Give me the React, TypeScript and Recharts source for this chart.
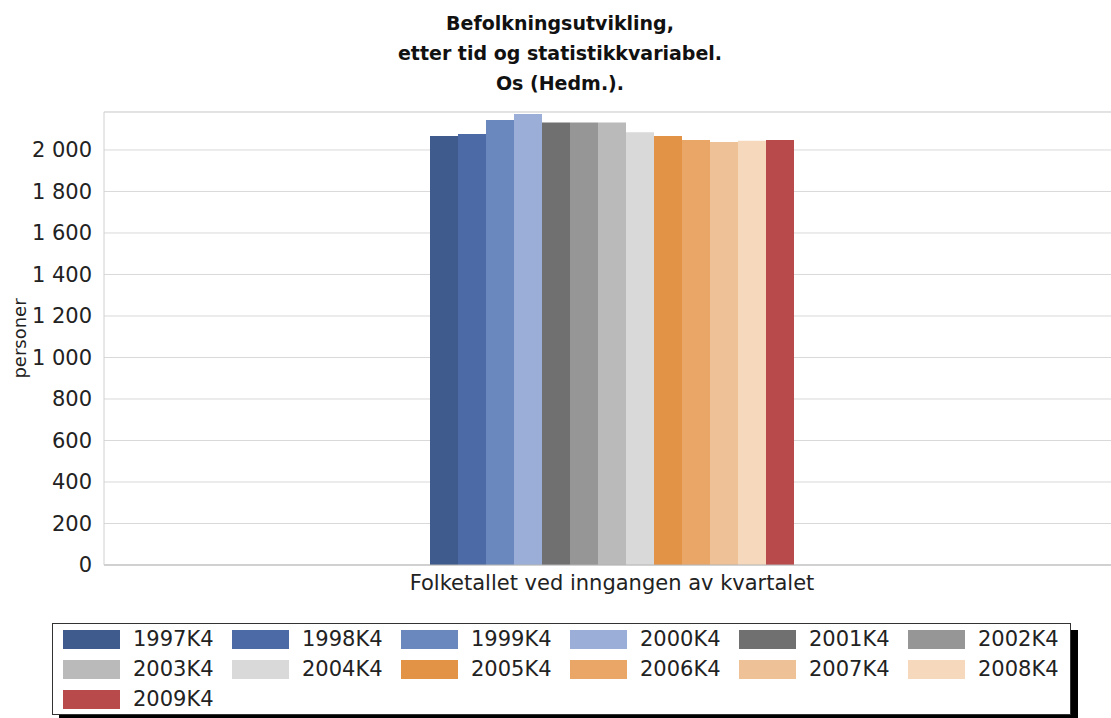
import { BarChart, Bar, XAxis, YAxis, CartesianGrid, Legend, ReferenceLine } from "recharts";

const category = "Folketallet ved inngangen av kvartalet";
const periods = [
  "1997K4", "1998K4", "1999K4", "2000K4", "2001K4", "2002K4", "2003K4",
  "2004K4", "2005K4", "2006K4", "2007K4", "2008K4", "2009K4",
];
const population = [2067, 2077, 2145, 2173, 2133, 2133, 2133, 2085, 2067, 2048, 2039, 2045, 2048];
const colors = [
  "#3f5b8e", "#4b6aa6", "#6a88bd", "#9aaed8", "#707070", "#969696", "#bababa",
  "#d9d9d9", "#e39346", "#e9a666", "#efc196", "#f6d9bc", "#b94a4c",
];
const yTicks = [0, 200, 400, 600, 800, 1000, 1200, 1400, 1600, 1800, 2000];
const yMax = 2183;
const titleLines = ["Befolkningsutvikling,", "etter tid og statistikkvariabel.", "Os (Hedm.)."];

const row: Record<string, string | number> = { name: category };
periods.forEach((p, i) => {
  row[p] = population[i];
});
const data = [row];

const font = "'DejaVu Sans', Verdana, sans-serif";
const fmt = (v: number) => String(v).replace(/\B(?=(\d{3})+(?!\d))/g, " ");

function LegendBox() {
  return (
    <div
      style={{
        width: 1019,
        height: 92,
        boxSizing: "border-box",
        border: "1px solid #333",
        boxShadow: "7px 7px 0 #000",
        background: "#fff",
        padding: "0 0 0 10px",
        display: "grid",
        gridTemplateColumns: "repeat(6, 169px)",
        gridAutoRows: "30px",
        fontFamily: font,
        fontSize: 21,
        color: "#222",
        textAlign: "left",
      }}
    >
      {periods.map((p, i) => (
        <div key={p} style={{ display: "flex", alignItems: "center", height: 30 }}>
          <span style={{ display: "inline-block", width: 57, height: 19, background: colors[i], marginRight: 13 }} />
          <span>{p}</span>
        </div>
      ))}
    </div>
  );
}

export default function App() {
  return (
    <div style={{ position: "fixed", top: 0, left: 0, width: 1111, height: 718, overflow: "hidden", background: "#fff" }}>
      <div
        style={{
          position: "absolute",
          top: 8,
          left: 0,
          width: 1120,
          textAlign: "center",
          fontFamily: font,
          fontWeight: "bold",
          fontSize: 19,
          lineHeight: "30px",
          color: "#111",
          zIndex: 2,
        }}
      >
        {titleLines.map((t) => (
          <div key={t}>{t}</div>
        ))}
      </div>
      <BarChart
        width={1120}
        height={718}
        data={data}
        margin={{ top: 112, right: 0, left: 0, bottom: 123 }}
        barCategoryGap={326}
        barGap={0}
      >
        <CartesianGrid vertical={false} stroke="#d9d9d9" />
        <ReferenceLine y={yMax} stroke="#d9d9d9" />
        <XAxis
          dataKey="name"
          axisLine={{ stroke: "#b5b5b5" }}
          tickLine={false}
          tickMargin={4}
          tick={{ fill: "#222", fontSize: 21, fontFamily: font }}
        />
        <YAxis
          width={104}
          domain={[0, yMax]}
          ticks={yTicks}
          tickFormatter={fmt}
          axisLine={{ stroke: "#d0d0d0" }}
          tickLine={false}
          tickMargin={6}
          tick={{ fill: "#222", fontSize: 21, fontFamily: font }}
          label={{
            value: "personer",
            angle: -90,
            position: "insideLeft",
            offset: 20,
            style: { textAnchor: "middle", fontSize: 18, fontFamily: font, fill: "#222" },
          }}
        />
        <Legend
          layout="horizontal"
          verticalAlign="middle"
          align="center"
          content={() => <LegendBox />}
          wrapperStyle={{ top: 623, left: 52, width: 1019, height: 92 }}
        />
        {periods.map((p, i) => (
          <Bar key={p} dataKey={p} fill={colors[i]} isAnimationActive={false} />
        ))}
      </BarChart>
    </div>
  );
}
